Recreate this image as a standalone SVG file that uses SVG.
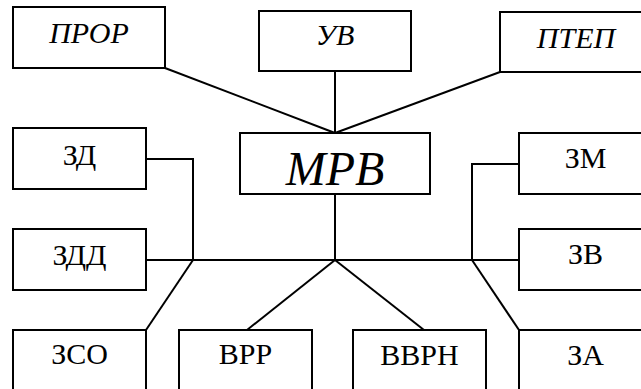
<svg xmlns="http://www.w3.org/2000/svg" width="641" height="389" viewBox="0 0 641 389">
<rect width="641" height="389" fill="#fff"/>
<g id="connectors" fill="none" stroke="#000" stroke-width="2">
<line x1="165" y1="68" x2="335" y2="133"/>
<line x1="335" y1="71" x2="335" y2="133"/>
<line x1="500" y1="72" x2="335" y2="133"/>
<line x1="335" y1="194" x2="335" y2="260"/>
<line x1="146" y1="260" x2="519" y2="260"/>
<polyline points="146,159 193,159 193,260"/>
<polyline points="519,164 472,164 472,260"/>
<line x1="193" y1="260" x2="146" y2="330"/>
<line x1="335" y1="260" x2="247" y2="330"/>
<line x1="335" y1="260" x2="424" y2="330"/>
<line x1="472" y1="260" x2="519" y2="330"/>
</g>
<g id="nodes" fill="#fff" stroke="#000" stroke-width="2">
<g id="node-PROR"><rect x="13" y="7" width="152" height="61"/><text x="89" y="43" fill="#000" stroke="none" font-family="Times New Roman, Liberation Serif, DejaVu Serif, serif" font-size="30" font-style="italic" text-anchor="middle">ПРОР</text></g>
<g id="node-UV"><rect x="259" y="11" width="152" height="60"/><text x="335" y="45" fill="#000" stroke="none" font-family="Times New Roman, Liberation Serif, DejaVu Serif, serif" font-size="30" font-style="italic" text-anchor="middle">УВ</text></g>
<g id="node-PTEP"><rect x="500" y="12" width="152" height="60"/><text x="576" y="48" fill="#000" stroke="none" font-family="Times New Roman, Liberation Serif, DejaVu Serif, serif" font-size="30" font-style="italic" text-anchor="middle">ПТЕП</text></g>
<g id="node-MRV"><rect x="240" y="133" width="190" height="61"/><text x="335" y="185" fill="#000" stroke="none" font-family="Times New Roman, Liberation Serif, DejaVu Serif, serif" font-size="48" font-style="italic" text-anchor="middle">МРВ</text></g>
<g id="node-ZD"><rect x="13" y="128" width="133" height="61"/><text x="79.5" y="165" fill="#000" stroke="none" font-family="Times New Roman, Liberation Serif, DejaVu Serif, serif" font-size="30" text-anchor="middle">ЗД</text></g>
<g id="node-ZDD"><rect x="13" y="229" width="133" height="61"/><text x="79.5" y="265" fill="#000" stroke="none" font-family="Times New Roman, Liberation Serif, DejaVu Serif, serif" font-size="30" text-anchor="middle">ЗДД</text></g>
<g id="node-ZSO"><rect x="13" y="330" width="133" height="70"/><text x="79.5" y="364" fill="#000" stroke="none" font-family="Times New Roman, Liberation Serif, DejaVu Serif, serif" font-size="30" text-anchor="middle">ЗСО</text></g>
<g id="node-VRR"><rect x="179" y="330" width="133" height="70"/><text x="245.5" y="364" fill="#000" stroke="none" font-family="Times New Roman, Liberation Serif, DejaVu Serif, serif" font-size="30" text-anchor="middle">ВРР</text></g>
<g id="node-VVRN"><rect x="353" y="330" width="133" height="70"/><text x="419.5" y="365" fill="#000" stroke="none" font-family="Times New Roman, Liberation Serif, DejaVu Serif, serif" font-size="30" text-anchor="middle">ВВРН</text></g>
<g id="node-ZM"><rect x="519" y="133" width="133" height="61"/><text x="585.5" y="168" fill="#000" stroke="none" font-family="Times New Roman, Liberation Serif, DejaVu Serif, serif" font-size="30" text-anchor="middle">ЗМ</text></g>
<g id="node-ZV"><rect x="519" y="229" width="133" height="61"/><text x="585.5" y="264" fill="#000" stroke="none" font-family="Times New Roman, Liberation Serif, DejaVu Serif, serif" font-size="30" text-anchor="middle">ЗВ</text></g>
<g id="node-ZA"><rect x="519" y="330" width="133" height="70"/><text x="585.5" y="365" fill="#000" stroke="none" font-family="Times New Roman, Liberation Serif, DejaVu Serif, serif" font-size="30" text-anchor="middle">ЗА</text></g>
</g>
</svg>
